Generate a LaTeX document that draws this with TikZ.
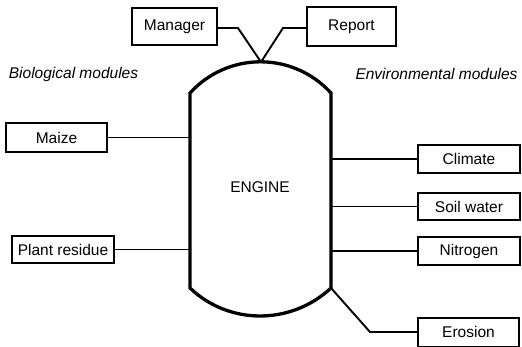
\documentclass[tikz,border=0pt]{standalone}
\usepackage{fontspec}
\setmainfont{Liberation Sans}
\begin{document}
\begin{tikzpicture}[x=1pt,y=-1pt,
  font=\fontsize{15.5}{18}\selectfont,
  modbox/.style={draw,line width=2pt,inner sep=0pt,anchor=center},
  conn/.style={line width=1.9pt},
  grp/.style={font=\fontsize{15.5}{18}\selectfont\itshape,inner sep=0pt}]
\useasboundingbox (0,0) rectangle (522,346);
% engine outline
\coordinate (etl) at (190,93);
\coordinate (etr) at (331,93);
\coordinate (ebl) at (190,288);
\coordinate (ebr) at (331,288);
\coordinate (etop) at (261,62);
\draw[line width=3.3pt,line join=miter]
  (etl) .. controls (228,51.4) and (293,51.4) .. (etr)
  -- (ebr) .. controls (291,325.3) and (229,325.3) .. (ebl) -- cycle;
\node (engine) at (260,187) {ENGINE};
% boxes
\node[modbox,minimum width=85pt,minimum height=37pt] (manager) at (174.5,26.5) {Manager};
\node[modbox,minimum width=89pt,minimum height=39pt] (report) at (351.5,26.5) {Report};
\node[modbox,minimum width=101pt,minimum height=29pt] (maize) at (56.5,137.5) {Maize};
\node[modbox,minimum width=102pt,minimum height=27pt] (plant) at (63,249.5) {Plant residue};
\node[modbox,minimum width=102pt,minimum height=28pt] (climate) at (469,159) {Climate};
\node[modbox,minimum width=102pt,minimum height=27pt] (soil) at (469,206.5) {Soil water};
\node[modbox,minimum width=102pt,minimum height=28pt] (nitrogen) at (469,251) {Nitrogen};
\node[modbox,minimum width=101pt,minimum height=29pt] (erosion) at (468.5,332) {Erosion};
% group labels
\node[grp] (bio) at (73.5,74) {Biological modules};
\node[grp] (env) at (436.5,74) {Environmental modules};
% connectors
\coordinate (mbend) at (238,28);
\coordinate (rbend) at (283,28);
\coordinate (ebend) at (370,332);
\draw[conn] (manager.east |- mbend) -- (mbend) -- (etop);
\draw[conn] (report.west |- rbend) -- (rbend) -- (etop);
\draw[conn] (maize.east) -- (maize.east -| etl);
\draw[conn] (plant.east) -- (plant.east -| etl);
\draw[conn] (climate.west) -- (climate.west -| etr);
\draw[conn] (soil.west) -- (soil.west -| etr);
\draw[conn] (nitrogen.west) -- (nitrogen.west -| etr);
\draw[conn] (ebr) -- (ebend) -- (erosion.west);
\end{tikzpicture}
\end{document}
